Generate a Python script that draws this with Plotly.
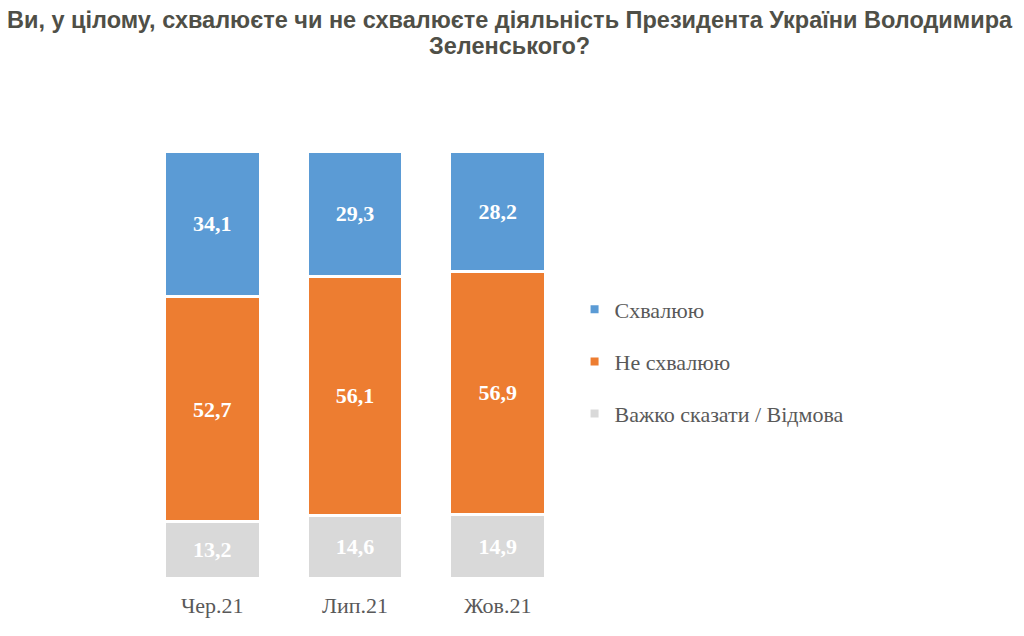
import plotly.graph_objects as go

categories = ["Чер.21", "Лип.21", "Жов.21"]
approve = [34.1, 29.3, 28.2]
disapprove = [52.7, 56.1, 56.9]
hard_to_say = [13.2, 14.6, 14.9]
series_names = ["Схвалюю", "Не схвалюю", "Важко сказати / Відмова"]
colors = ["#5b9bd5", "#ed7d31", "#d9d9d9"]

title_lines = ["Ви, у цілому, схвалюєте чи не схвалюєте діяльність Президента України Володимира",
               "Зеленського?"]

def fmt(v):
    return f"{v:.1f}".replace(".", ",")

serif = "Liberation Serif, Times New Roman, serif"
narrow = "Liberation Sans Narrow, Arial Narrow, Liberation Sans, sans-serif"

fig = go.Figure()
stack = [(hard_to_say, series_names[2], colors[2]),
         (disapprove, series_names[1], colors[1]),
         (approve, series_names[0], colors[0])]
for vals, name, col in stack:
    fig.add_trace(go.Bar(
        x=categories, y=vals, name=name, showlegend=False,
        marker=dict(color=col, line=dict(color="white", width=3)),
        text=[fmt(v) for v in vals], textposition="inside", insidetextanchor="middle",
        textfont=dict(family=serif, size=22, color="white", weight="bold"),
        hoverinfo="skip",
    ))

# legend entries
for i, (name, col) in enumerate(zip(series_names, colors)):
    fig.add_trace(go.Scatter(
        x=[None], y=[None], mode="markers", name=name, legendgroup=f"g{i}",
        marker=dict(symbol="square", size=8, color=col),
        showlegend=True,
    ))

for line, yy in zip(title_lines, [1.306, 1.245]):
    fig.add_annotation(text=line, xref="paper", yref="paper", x=0.861, y=yy,
                       xanchor="center", yanchor="middle", showarrow=False,
                       font=dict(family=narrow, size=23.5, color="#4f4f47", weight="bold"))

fig.update_layout(
    width=1024, height=636,
    paper_bgcolor="white", plot_bgcolor="white",
    barmode="stack", bargap=0.33,
    margin=dict(l=132.5, r=462.5, t=143, b=66),
    legend=dict(x=1.013, xanchor="left", y=0.507, yanchor="middle",
                traceorder="grouped", tracegroupgap=20.5,
                font=dict(family=serif, size=22, color="#595959"),
                bgcolor="rgba(0,0,0,0)"),
    xaxis=dict(showline=False, showgrid=False, ticks="", ticklabelstandoff=12,
               tickfont=dict(family=serif, size=22, color="#595959")),
    yaxis=dict(range=[0, 100], visible=False),
    showlegend=True,
)

fig.write_html("out.html")
